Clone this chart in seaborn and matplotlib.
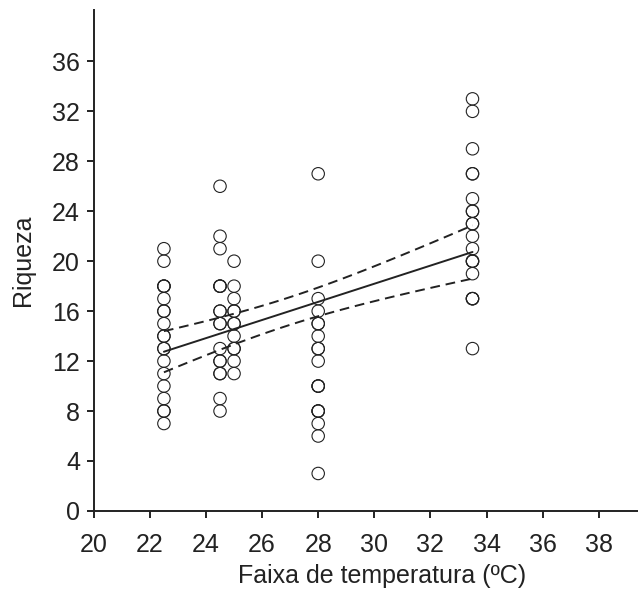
import numpy as np
import pandas as pd
import matplotlib
matplotlib.use("Agg")
import matplotlib.pyplot as plt
import seaborn as sns

# Data (overlapping circles counted as repeats)
temp_225 = [21, 20, 18, 18, 18, 17, 16, 16, 15, 14, 14, 13, 13, 12, 11, 10, 9, 8, 8, 7]
temp_245 = [26, 22, 21, 18, 18, 18, 16, 16, 15, 15, 13, 12, 12, 11, 11, 9, 8]
temp_250 = [20, 18, 17, 16, 16, 15, 15, 14, 13, 13, 12, 11]
temp_280 = [27, 20, 17, 16, 15, 15, 14, 13, 13, 12, 10, 10, 10, 8, 8, 8, 7, 6, 3]
temp_335 = [33, 32, 29, 27, 27, 25, 24, 24, 23, 23, 22, 21, 20, 20, 20, 19, 17, 17, 17, 13]
groups = {22.5: temp_225, 24.5: temp_245, 25.0: temp_250, 28.0: temp_280, 33.5: temp_335}

x_ticks = [20, 22, 24, 26, 28, 30, 32, 34, 36, 38]
y_ticks = [0, 4, 8, 12, 16, 20, 24, 28, 32, 36]

rows = []
for t, vals in groups.items():
    for v in vals:
        rows.append((t, v))
df = pd.DataFrame(rows, columns=["temp", "riqueza"])

# OLS fit and 95% confidence band
x = df["temp"].values.astype(float)
y = df["riqueza"].values.astype(float)
n = len(x)
b1, b0 = np.polyfit(x, y, 1)
resid = y - (b0 + b1 * x)
s = np.sqrt(np.sum(resid ** 2) / (n - 2))
xm = x.mean()
sxx = np.sum((x - xm) ** 2)
xf = np.linspace(x.min(), x.max(), 100)
yf = b0 + b1 * xf
se = s * np.sqrt(1.0 / n + (xf - xm) ** 2 / sxx)
tval = 1.99
fit = pd.DataFrame({"x": xf, "y": yf, "lo": yf - tval * se, "hi": yf + tval * se})

sns.set_style("ticks")
plt.rcParams["font.family"] = ["Liberation Sans", "DejaVu Sans"]

ink = "#222222"
fig = plt.figure(figsize=(6.38, 5.99), dpi=100)
ax = fig.add_axes([0.147, 0.147, 0.853, 0.836])

sns.scatterplot(data=df, x="temp", y="riqueza", ax=ax, s=80,
                facecolors="none", edgecolor=ink, linewidth=0.8, legend=False)
sns.lineplot(data=fit, x="x", y="y", ax=ax, color=ink, linewidth=1.4)
sns.lineplot(data=fit, x="x", y="lo", ax=ax, color=ink, linewidth=1.4, linestyle=(0, (5, 3)))
sns.lineplot(data=fit, x="x", y="hi", ax=ax, color=ink, linewidth=1.4, linestyle=(0, (5, 3)))

ax.set_xlim(20, 39.4)
ax.set_ylim(0, 40.1)
ax.set_xticks(x_ticks)
ax.set_yticks(y_ticks)
ax.tick_params(labelsize=18, length=5, width=1.4, color=ink, labelcolor=ink)
ax.tick_params(axis="x", pad=11)
ax.tick_params(axis="y", pad=5)
for sp in ["top", "right"]:
    ax.spines[sp].set_visible(False)
for sp in ["left", "bottom"]:
    ax.spines[sp].set_linewidth(1.4)
    ax.spines[sp].set_color(ink)
ax.set_xlabel("Faixa de temperatura (ºC)", fontsize=18, color=ink, labelpad=6)
ax.set_ylabel("Riqueza", fontsize=18, color=ink, labelpad=12)
ax.xaxis.set_label_coords(0.53, -0.105)

fig.savefig("out.png", dpi=100)
